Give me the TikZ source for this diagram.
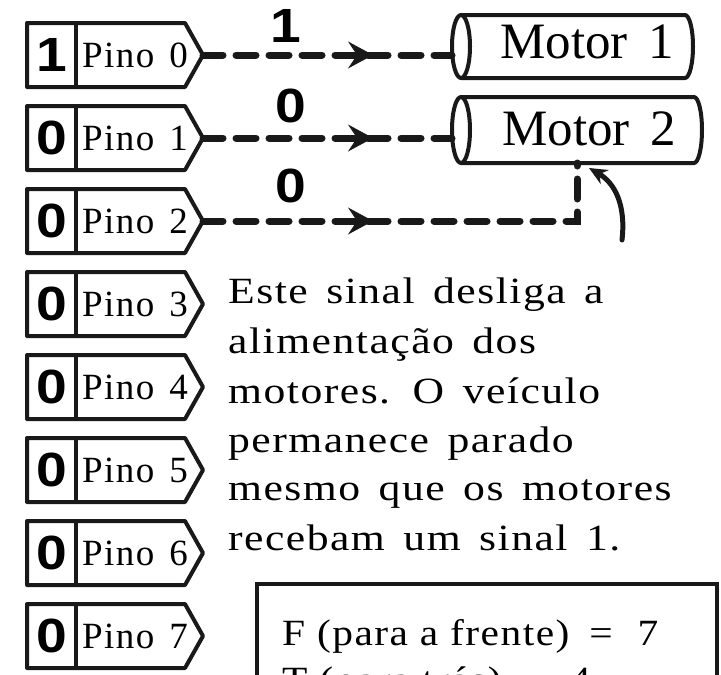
\documentclass[tikz,border=0pt]{standalone}
\usepackage{fontspec}
\setmainfont{Liberation Serif}
\newfontfamily\bodyfont[FakeStretch=1.18,LetterSpace=4]{Liberation Serif}
\newfontfamily\boxfont[FakeStretch=1.12,LetterSpace=4]{Liberation Serif}
\newfontfamily\pinfont[LetterSpace=4]{Liberation Serif}
\newfontfamily\motorfont{Liberation Serif}
\newfontfamily\digfont[FakeStretch=1.15]{Liberation Sans}
\newcommand{\setsp}[1]{\spaceskip=#1 plus 2pt minus 1pt\relax}
\usetikzlibrary{arrows.meta,decorations.markings,calc}
\begin{document}
\begin{tikzpicture}[x=1pt,y=-1pt,
  ink/.style={draw=black!90,line join=round},
  pinbox/.style={minimum width=176pt,minimum height=64pt,inner sep=0pt,outer sep=0pt},
  pinline/.style={ink,line width=4pt},
  digit/.style={inner sep=0pt,font=\digfont\bfseries\fontsize{48}{48}\selectfont},
  pintext/.style={inner sep=0pt,anchor=base west,font=\pinfont\fontsize{37}{40}\selectfont\setsp{15pt}},
  body/.style={inner sep=0pt,anchor=base west,font=\bodyfont\fontsize{37}{49}\selectfont\setsp{18.5pt}},
  boxtext/.style={inner sep=0pt,anchor=base west,font=\boxfont\fontsize{37}{49}\selectfont},
  motorbox/.style={inner sep=0pt,outer sep=0pt},
  motorline/.style={ink,line width=4pt},
  motortext/.style={inner sep=0pt,anchor=base west,font=\motorfont\fontsize{51}{51}\selectfont\setsp{21pt}},
  conn/.style={draw=black!90,line width=7pt,dash pattern=on 20pt off 13pt,line cap=round,
     postaction={decorate},
     decoration={markings,mark=at position 170pt with {\arrow{Stealth[length=25pt,width=27pt,inset=9pt,line width=1pt]}}}},
  sig/.style={inner sep=0pt,font=\digfont\bfseries\fontsize{48}{48}\selectfont},
]
\useasboundingbox (0,0) rectangle (721,675);
\clip (0,0) rectangle (721,675);

% pins
\foreach \i/\v in {0/1,1/0,2/0,3/0,4/0,5/0,6/0,7/0}{
  \pgfmathsetmacro\yc{55+83*\i}
  \node[pinbox] (p\i) at (115,\yc) {};
  \draw[pinline] (p\i.north west) -- ([xshift=-18pt]p\i.north east) -- (p\i.east)
     -- ([xshift=-18pt]p\i.south east) -- (p\i.south west) -- cycle;
  \draw[pinline] ([xshift=49pt]p\i.north west) -- ([xshift=49pt]p\i.south west);
  \node[digit] (d\i) at (52,\yc) {\v};
  \node[pintext] (n\i) at (82,\yc+12) {Pino \i};
}

% motors
\node[motorbox,minimum width=241pt,minimum height=63pt] (m1) at (572.5,46.5) {};
\draw[motorline] ([xshift=9pt]m1.north west) -- ([xshift=-8pt]m1.north east)
   arc[start angle=-90,end angle=90,x radius=8,y radius=31.5] -- ([xshift=9pt]m1.south west);
\draw[motorline] ([xshift=9pt]m1.west) ellipse[x radius=9,y radius=31.5];
\node[motortext] (mt1) at (500,58) {Motor 1};

\node[motorbox,minimum width=250pt,minimum height=66pt] (m2) at (577,130) {};
\draw[motorline] ([xshift=9pt]m2.north west) -- ([xshift=-8pt]m2.north east)
   arc[start angle=-90,end angle=90,x radius=8,y radius=33] -- ([xshift=9pt]m2.south west);
\draw[motorline] ([xshift=9pt]m2.west) ellipse[x radius=9,y radius=33];
\node[motortext] (mt2) at (502,145) {Motor 2};

% connectors
\draw[conn] (p0.east) -- (p0.east -| m1.west);
\draw[conn] (p1.east) -- (p1.east -| m2.west);
\draw[conn] (p2.east) -| (m2.south);
\node[sig] (s0) at (286,26) {1};
\node[sig] (s1) at (291,106) {0};
\node[sig] (s2) at (291,186) {0};

% curved pointer
\coordinate (cs) at (622,240);
\draw[draw=black!90,line width=5pt,line cap=round,-{Stealth[length=18pt,width=16pt]}]
  (cs) .. controls (626,205) and (615,183) .. ([shift={(12pt,-5pt)}]m2.south);

% explanation text
\node[body] (t1) at (228,303) {Este sinal desliga a};
\node[body] (t2) at (228,353) {alimentação dos};
\node[body] (t3) at (228,403) {motores. O veículo};
\node[body] (t4) at (228,452) {permanece parado};
\node[body] (t5) at (228,500) {mesmo que os motores};
\node[body] (t6) at (228,550) {recebam um sinal 1.};

% table box
\node[draw=black!90,line width=4pt,minimum width=460pt,minimum height=170pt,anchor=north west,inner sep=0pt] (tab) at (255,582) {};
\node[boxtext] (f1) at (282,645) {F (para a frente) \hspace{8pt}= \hspace{13pt}7};
\node[boxtext] (f2) at (282,692) {T (para trás) \hspace{8pt}= \hspace{13pt}4};
\end{tikzpicture}
\end{document}
